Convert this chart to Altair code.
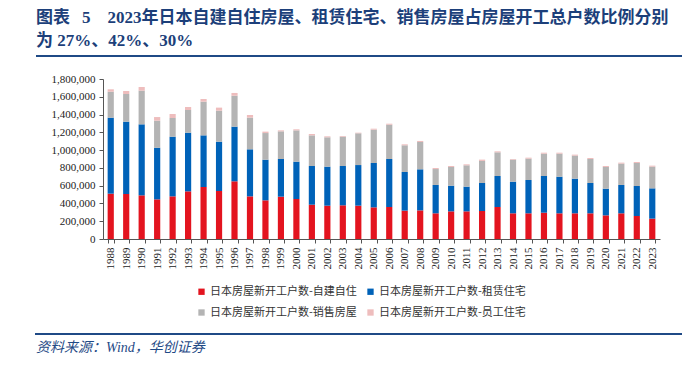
import altair as alt
import pandas as pd

years = list(range(1988, 2024))
series_names = ["日本房屋新开工户数-自建自住", "日本房屋新开工户数-租赁住宅",
                "日本房屋新开工户数-销售房屋", "日本房屋新开工户数-员工住宅"]
series_colors = ["#E3141F", "#0062B8", "#B4B4B4", "#EEBDBD"]

# thousands of units
self_built = [510, 506, 491, 446, 480, 536, 585, 540, 649, 480, 435, 476, 450, 386, 375, 379, 375, 356,
              360, 319, 322, 289, 311, 311, 315, 360, 289, 289, 296, 289, 289, 289, 266, 289, 259, 229]
rental = [855, 814, 799, 581, 671, 660, 581, 555, 615, 529, 457, 424, 420, 435, 439, 442, 457, 499,
          540, 435, 462, 319, 289, 278, 315, 349, 356, 375, 413, 412, 390, 341, 300, 319, 337, 341]
sales = [292, 311, 379, 304, 210, 255, 379, 349, 348, 356, 300, 311, 352, 345, 330, 330, 357, 375,
         386, 300, 307, 179, 210, 240, 248, 266, 248, 240, 251, 259, 259, 270, 244, 240, 259, 244]
employee = [27, 34, 41, 41, 45, 34, 30, 34, 31, 30, 16, 11, 12, 15, 11, 8, 7, 11,
            11, 11, 12, 12, 11, 11, 15, 11, 7, 11, 11, 11, 11, 11, 11, 11, 11, 11]

y_ticks = list(range(0, 1800001, 200000))

title_line1 = "图表\u2002\u20095\u20032023年日本自建自住房屋、租赁住宅、销售房屋占房屋开工总户数比例分别"
title_line2 = "为 27%、42%、30%"
source_text = "资料来源：Wind，华创证券"

rows = []
for i, name in enumerate(series_names):
    vals = [self_built, rental, sales, employee][i]
    for y, v in zip(years, vals):
        rows.append({"year": str(y), "series": name, "value": v * 1000, "idx": i})
df = pd.DataFrame(rows)

serif = "Liberation Serif, Noto Sans CJK SC"
cjk = "Noto Sans CJK SC"
navy = "#1C3F7A"

bars = alt.Chart(df).mark_bar().encode(
    x=alt.X("year:O", title=None,
            scale=alt.Scale(paddingInner=0.6, paddingOuter=0.3),
            axis=alt.Axis(labelAngle=270, labelFont=serif, labelFontSize=11, labelColor="#222",
                          labelPadding=4, tickBand="extent", tickSize=4, domainColor="#555",
                          tickColor="#555", labelBaseline="middle", labelAlign="right")),
    y=alt.Y("value:Q", title=None, stack="zero",
            scale=alt.Scale(domain=[0, 1800000], nice=False),
            axis=alt.Axis(values=y_ticks, format=",.0f", grid=False, labelFont=serif,
                          labelFontSize=11, labelColor="#222", tickSize=4, labelPadding=4,
                          domainColor="#555", tickColor="#555")),
    color=alt.Color("series:N",
                    scale=alt.Scale(domain=series_names, range=series_colors),
                    legend=alt.Legend(title=None, orient="none", legendX=93, legendY=207,
                                      direction="horizontal", columns=2,
                                      symbolType="square", symbolSize=40,
                                      symbolStrokeWidth=0, labelFont=cjk, labelFontSize=11,
                                      labelColor="#333", labelLimit=300, rowPadding=9,
                                      columnPadding=8, labelOffset=3)),
    order=alt.Order("idx:Q", sort="ascending"),
)

dummy = pd.DataFrame({"a": [0]})

t1 = alt.Chart(pd.DataFrame({"t": [title_line1]})).mark_text(
    align="left", baseline="middle", font=serif, fontSize=17, fontWeight="bold", color=navy
).encode(text="t:N", x=alt.value(-67), y=alt.value(-61))

t2 = alt.Chart(pd.DataFrame({"t": [title_line2]})).mark_text(
    align="left", baseline="middle", font=serif, fontSize=17, fontWeight="bold", color=navy
).encode(text="t:N", x=alt.value(-67), y=alt.value(-38))

rule_top = alt.Chart(dummy).mark_rule(color="#1F4A86", strokeWidth=2).encode(
    x=alt.value(-67), x2=alt.value(589), y=alt.value(-23))

rule_bottom = alt.Chart(dummy).mark_rule(color="#1F4A86", strokeWidth=2).encode(
    x=alt.value(-68), x2=alt.value(589), y=alt.value(255))

src = alt.Chart(pd.DataFrame({"t": [source_text]})).mark_text(
    align="left", baseline="middle", font=serif, fontSize=14, fontStyle="italic", color="#1F4A86"
).encode(text="t:N", x=alt.value(-67), y=alt.value(269))

chart = alt.layer(bars, t1, t2, rule_top, rule_bottom, src).properties(
    width=557, height=160,
    padding={"left": 95, "top": 71, "right": 22, "bottom": 126},
    autosize=alt.AutoSizeParams(type="none"),
).configure_view(stroke=None)

chart.save("out.html", embed_options={"renderer": "svg", "actions": False})
